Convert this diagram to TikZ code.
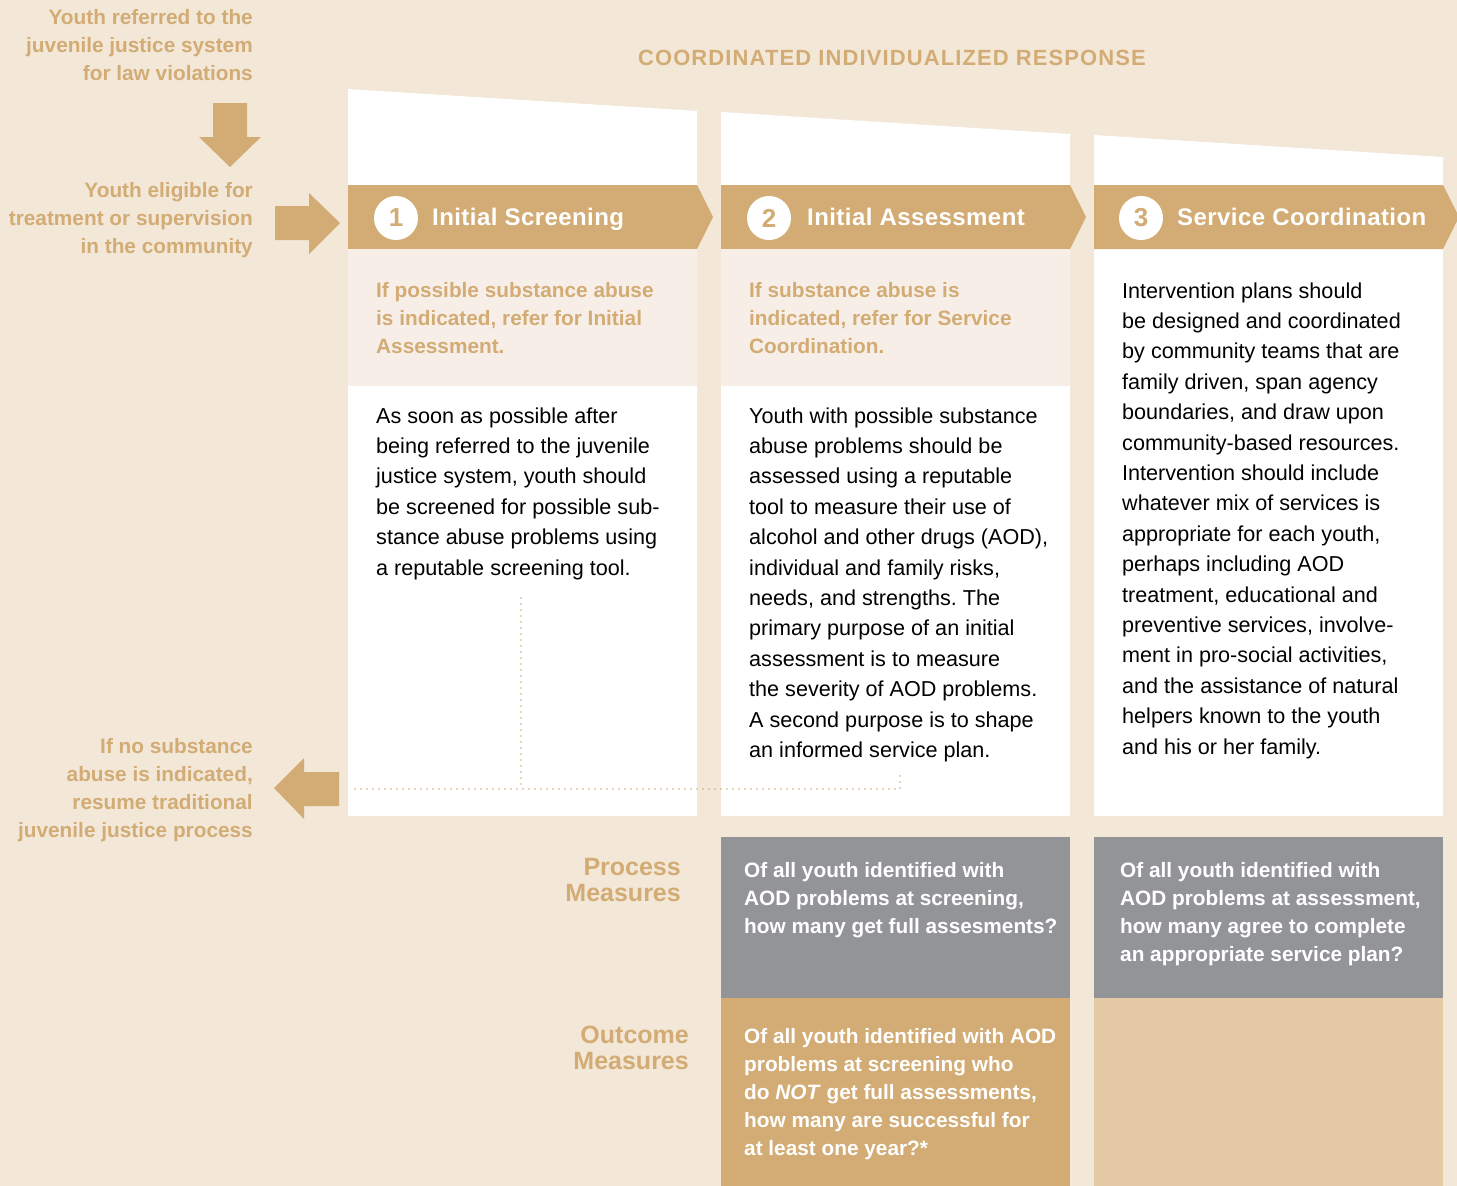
\documentclass[tikz,border=0pt]{standalone}
\usepackage{fontspec}
\setmainfont{Liberation Sans}
\newfontfamily\titlefont[LetterSpace=5]{Liberation Sans}
\newfontfamily\bannerfont[LetterSpace=1.8]{Liberation Sans}
\definecolor{bgc}{HTML}{F3E7D8}
\definecolor{tanc}{HTML}{D2AC74}
\definecolor{panelc}{HTML}{F7EFE7}
\definecolor{grayc}{HTML}{939498}
\definecolor{ltanc}{HTML}{E3C9A4}
\newcommand\rlines[2]{\parbox[t]{#1}{\raggedleft #2}}
\newcommand\llines[2]{\parbox[t]{#1}{\raggedright #2}}
\frenchspacing
\tikzset{
  sidelabel/.style={inner sep=0pt, anchor=base east, text=tanc, font=\bfseries\fontsize{20.8}{28}\selectfont},
  panellabel/.style={inner sep=0pt, anchor=base west, text=tanc, font=\bfseries\fontsize{20.8}{28}\selectfont},
  bodytext/.style={inner sep=0pt, anchor=base west, text=black, font=\fontsize{21.6}{30.4}\selectfont},
  boxtext/.style={inner sep=0pt, anchor=base west, text=white, font=\bfseries\fontsize{20.8}{28}\selectfont},
  measurelabel/.style={inner sep=0pt, anchor=base east, text=tanc, font=\bfseries\fontsize{25}{26}\selectfont},
  bannertitle/.style={inner sep=0pt, anchor=base west, text=white, font=\bannerfont\bfseries\fontsize{24}{28}\selectfont},
  numcircle/.style={circle, fill=white, minimum size=44pt, inner sep=0pt, text=tanc, font=\bfseries\fontsize{26}{28}\selectfont},
  blockarrow/.style={fill=tanc},
  dotline/.style={draw=tanc, line width=1.9pt, line cap=round, dash pattern=on 0pt off 6pt},
}
\begin{document}
\begin{tikzpicture}[x=1pt,y=-1pt]
\fill[bgc] (0,0) rectangle (1457,1186);
\useasboundingbox (0,0) rectangle (1457,1186);
\begin{scope}
\clip (0,0) rectangle (1457,1186);
% columns
\foreach \x/\t in {348/89, 721/112, 1094/135}{
  \fill[white] (\x,\t) -- (\x+349,\t+22) -- (\x+349,816) -- (\x,816) -- cycle;
  \fill[tanc] (\x,185) -- (\x+349,185) -- (\x+365,217) -- (\x+349,249) -- (\x,249) -- cycle;
}
\end{scope}
\fill[panelc] (348,249) rectangle (697,386);
\fill[panelc] (721,249) rectangle (1070,386);

% bottom boxes
\fill[grayc] (721,837) rectangle (1070,998);
\fill[grayc] (1094,837) rectangle (1443,998);
\fill[tanc] (721,998) rectangle (1070,1186);
\fill[ltanc] (1094,998) rectangle (1443,1186);

% block arrows
\fill[blockarrow] (213,103) -- (247,103) -- (247,137) -- (261,137) -- (230,167) -- (199,137) -- (213,137) -- cycle;
\fill[blockarrow] (275,206) -- (309,206) -- (309,193) -- (340,223) -- (309,254) -- (309,240) -- (275,240) -- cycle;
\fill[blockarrow] (339,772) -- (304,772) -- (304,758) -- (274,788) -- (304,819) -- (304,806) -- (339,806) -- cycle;

% dotted lines
\coordinate (dA) at (521,598);
\coordinate (dB) at (521,789);
\coordinate (dC) at (355,789);
\coordinate (dD) at (900,789);
\coordinate (dE) at (900,773);
\draw[dotline] (dA) -- (dB);
\draw[dotline] (dC) -- (dD) -- (dE);

% title
\node[inner sep=0pt, anchor=base, text=tanc, font=\titlefont\bfseries\fontsize{22}{26}\selectfont] (title) at (892,65) {COORDINATED INDIVIDUALIZED RESPONSE};

% side labels
\node[sidelabel] (ref) at (253,24) {\rlines{300pt}{Youth referred to the\\juvenile justice system\\for law violations}};
\node[sidelabel] (elig) at (253,197) {\rlines{300pt}{Youth eligible for\\treatment or supervision\\in the community}};
\node[sidelabel] (nosub) at (253,753) {\rlines{300pt}{If no substance\\abuse is indicated,\\resume traditional\\juvenile justice process}};

% banners
\node[numcircle] (c1) at (396,218) {1};
\node[numcircle] (c2) at (769,218) {2};
\node[numcircle] (c3) at (1141,218) {3};
\node[bannertitle] (b1) at (432,225) {Initial Screening};
\node[bannertitle] (b2) at (807,225) {Initial Assessment};
\node[bannertitle] (b3) at (1177,225) {Service Coordination};

% panel labels
\node[panellabel] (p1) at (376,297) {\llines{320pt}{If possible substance abuse\\is indicated, refer for Initial\\Assessment.}};
\node[panellabel] (p2) at (749,297) {\llines{320pt}{If substance abuse is\\indicated, refer for Service\\Coordination.}};

% body texts
\node[bodytext] (t1) at (376,423) {\llines{320pt}{As soon as possible after\\being referred to the juvenile\\justice system, youth should\\be screened for possible sub-\\stance abuse problems using\\a reputable screening tool.}};
\node[bodytext] (t2) at (749,423) {\llines{320pt}{Youth with possible substance\\abuse problems should be\\assessed using a reputable\\tool to measure their use of\\alcohol and other drugs (AOD),\\individual and family risks,\\needs, and strengths. The\\primary purpose of an initial\\assessment is to measure\\the severity of AOD problems.\\A second purpose is to shape\\an informed service plan.}};
\node[bodytext] (t3) at (1122,298) {\llines{320pt}{Intervention plans should\\be designed and coordinated\\by community teams that are\\family driven, span agency\\boundaries, and draw upon\\community-based resources.\\Intervention should include\\whatever mix of services is\\appropriate for each youth,\\perhaps including AOD\\treatment, educational and\\preventive services, involve-\\ment in pro-social activities,\\and the assistance of natural\\helpers known to the youth\\and his or her family.}};

% measures
\node[measurelabel] (pm) at (681,875) {\rlines{200pt}{Process\\Measures}};
\node[measurelabel] (om) at (689,1043) {\rlines{200pt}{Outcome\\Measures}};

\node[boxtext] (g1) at (744,877) {\llines{330pt}{Of all youth identified with\\AOD problems at screening,\\how many get full assesments?}};
\node[boxtext] (g2) at (1120,877) {\llines{330pt}{Of all youth identified with\\AOD problems at assessment,\\how many agree to complete\\an appropriate service plan?}};
\node[boxtext] (o1) at (744,1043) {\llines{330pt}{Of all youth identified with AOD\\problems at screening who\\do \textit{NOT} get full assessments,\\how many are successful for\\at least one year?*}};
\end{tikzpicture}
\end{document}
